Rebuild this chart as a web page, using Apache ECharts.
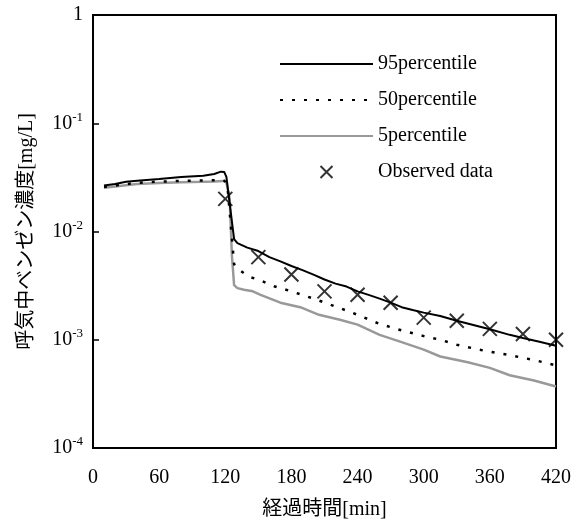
<!DOCTYPE html>
<html>
<head>
<meta charset="utf-8">
<script src="https://cdn.jsdelivr.net/npm/echarts@6/dist/echarts.min.js"></script>
<style>
  html, body { margin: 0; padding: 0; background: #fff; }
  #chart { width: 584px; height: 525px; }
</style>
</head>
<body>
<div id="chart"></div>
<script>
// 経過時間[min] と 濃度[mg/L]
const p95 = [
  [10, 0.0266], [20, 0.0275], [30, 0.0288], [40, 0.0294], [60, 0.0305], [80, 0.0318],
  [100, 0.0328], [110, 0.0340], [116, 0.0357], [119, 0.0355], [121, 0.0320], [128, 0.0085],
  [131, 0.0078], [140, 0.0071], [150, 0.0066], [160, 0.0058], [170, 0.0053], [180, 0.0048],
  [190, 0.0044], [200, 0.0040], [210, 0.0036], [220, 0.0033], [230, 0.0031], [240, 0.0028],
  [250, 0.0026], [260, 0.0024], [270, 0.0022], [280, 0.0020], [290, 0.00188], [300, 0.00178],
  [315, 0.00166], [330, 0.00150], [345, 0.00137], [360, 0.00125], [378, 0.00111],
  [390, 0.00104], [405, 0.00096], [420, 0.00088]
]
const p50 = [
  [10, 0.0258], [20, 0.0266], [30, 0.0274], [40, 0.0281], [60, 0.0289], [80, 0.0293],
  [100, 0.0296], [110, 0.0298], [117, 0.0303], [120, 0.0290], [122, 0.0260], [128, 0.0050],
  [130, 0.0046], [142, 0.0038], [150, 0.0036], [165, 0.0031], [180, 0.0028], [200, 0.0024],
  [224, 0.00196], [240, 0.0017], [260, 0.00140], [280, 0.00122], [300, 0.00108],
  [315, 0.00100], [330, 0.00090], [350, 0.00081], [378, 0.00072], [400, 0.00065], [420, 0.00058]
]
const p5 = [
  [10, 0.0253], [20, 0.0260], [30, 0.0268], [40, 0.0274], [60, 0.0280], [80, 0.0285],
  [100, 0.0288], [110, 0.0290], [118, 0.0293], [121, 0.0285], [124, 0.0200], [126, 0.0060],
  [128, 0.0032], [131, 0.0030], [137, 0.0029], [145, 0.0028], [152, 0.0026], [170, 0.0022],
  [188, 0.0020], [205, 0.0017], [224, 0.00153], [240, 0.00138], [260, 0.00111],
  [280, 0.00095], [300, 0.00081], [315, 0.0007], [340, 0.00062], [360, 0.00055],
  [378, 0.00047], [400, 0.00042], [420, 0.00037]
]
const observed = [
  [120, 0.020], [150, 0.0058], [180, 0.0040], [210, 0.0028], [240, 0.0026], [270, 0.0022],
  [300, 0.0016], [330, 0.0015], [360, 0.00126], [390, 0.00113], [420, 0.0010]
]
const seriesNames = ['95percentile', '50percentile', '5percentile', 'Observed data']
const xTicks = [0, 60, 120, 180, 240, 300, 360, 420]

const serif = "'Liberation Serif', 'Noto Sans CJK JP', serif"
const cross = 'path://M0,0L10,10M10,0L0,10'

let chart = echarts.init(document.getElementById('chart'))
let option = {
  animation: false,
  grid: {
    left: 93,
    top: 15,
    right: 28,
    bottom: 77,
    show: true,
    borderColor: '#000',
    borderWidth: 2,
  },
  legend: {
    orient: 'vertical',
    left: 279,
    top: 54,
    padding: 0,
    itemWidth: 93,
    itemHeight: 12,
    itemGap: 16,
    textStyle: {
      fontFamily: serif,
      fontSize: 20,
      color: '#000',
    },
    data: [
      { name: seriesNames[0], itemStyle: { opacity: 0 } },
      { name: seriesNames[1], itemStyle: { opacity: 0 } },
      { name: seriesNames[2], itemStyle: { opacity: 0 } },
      { name: seriesNames[3] },
    ],
  },
  xAxis: {
    type: 'value',
    min: 0,
    max: 420,
    interval: 60,
    name: '経過時間[min]',
    nameLocation: 'middle',
    nameGap: 52,
    nameTextStyle: {
      fontFamily: serif,
      fontSize: 20,
      color: '#000',
    },
    splitLine: { show: false },
    axisTick: { show: false },
    axisLine: { lineStyle: { color: '#000', width: 2 } },
    axisLabel: {
      margin: 20,
      fontFamily: serif,
      fontSize: 20,
      color: '#000',
      formatter: v => (xTicks.includes(v) ? String(v) : ''),
    },
  },
  yAxis: {
    type: 'log',
    logBase: 10,
    min: 0.0001,
    max: 1,
    name: '呼気中ベンゼン濃度[mg/L]',
    nameLocation: 'middle',
    nameGap: 56,
    nameTextStyle: {
      fontFamily: serif,
      fontSize: 20,
      color: '#000',
    },
    splitLine: { show: false },
    minorTick: { show: false },
    axisTick: { show: true, inside: true, length: 6, lineStyle: { color: '#000', width: 1.5 } },
    axisLine: { lineStyle: { color: '#000', width: 2 } },
    axisLabel: {
      margin: 10,
      fontFamily: serif,
      fontSize: 20,
      color: '#000',
      formatter: v => {
        let e = Math.round(Math.log10(v))
        if (e === 0) return '1'
        return '10{sup|' + e + '}'
      },
      rich: {
        sup: {
          fontFamily: serif,
          fontSize: 13,
          color: '#000',
          verticalAlign: 'top',
          padding: [0, 0, 12, 0],
        },
      },
    },
  },
  series: [
    {
      name: seriesNames[0],
      type: 'line',
      data: p95,
      symbol: 'none',
      z: 4,
      lineStyle: { color: '#000', width: 2 },
      itemStyle: { color: '#000' },
    },
    {
      name: seriesNames[1],
      type: 'line',
      data: p50,
      symbol: 'none',
      z: 3,
      lineStyle: { color: '#000', width: 2.5, type: [3, 9] },
      itemStyle: { color: '#000' },
    },
    {
      name: seriesNames[2],
      type: 'line',
      data: p5,
      symbol: 'none',
      z: 2,
      lineStyle: { color: '#999', width: 2.5 },
      itemStyle: { color: '#999' },
    },
    {
      name: seriesNames[3],
      type: 'scatter',
      data: observed,
      symbol: cross,
      symbolSize: 14,
      z: 5,
      itemStyle: { color: 'none', borderColor: '#000', borderWidth: 2 },
    },
  ],
}
chart.setOption(option)
</script>
</body>
</html>
